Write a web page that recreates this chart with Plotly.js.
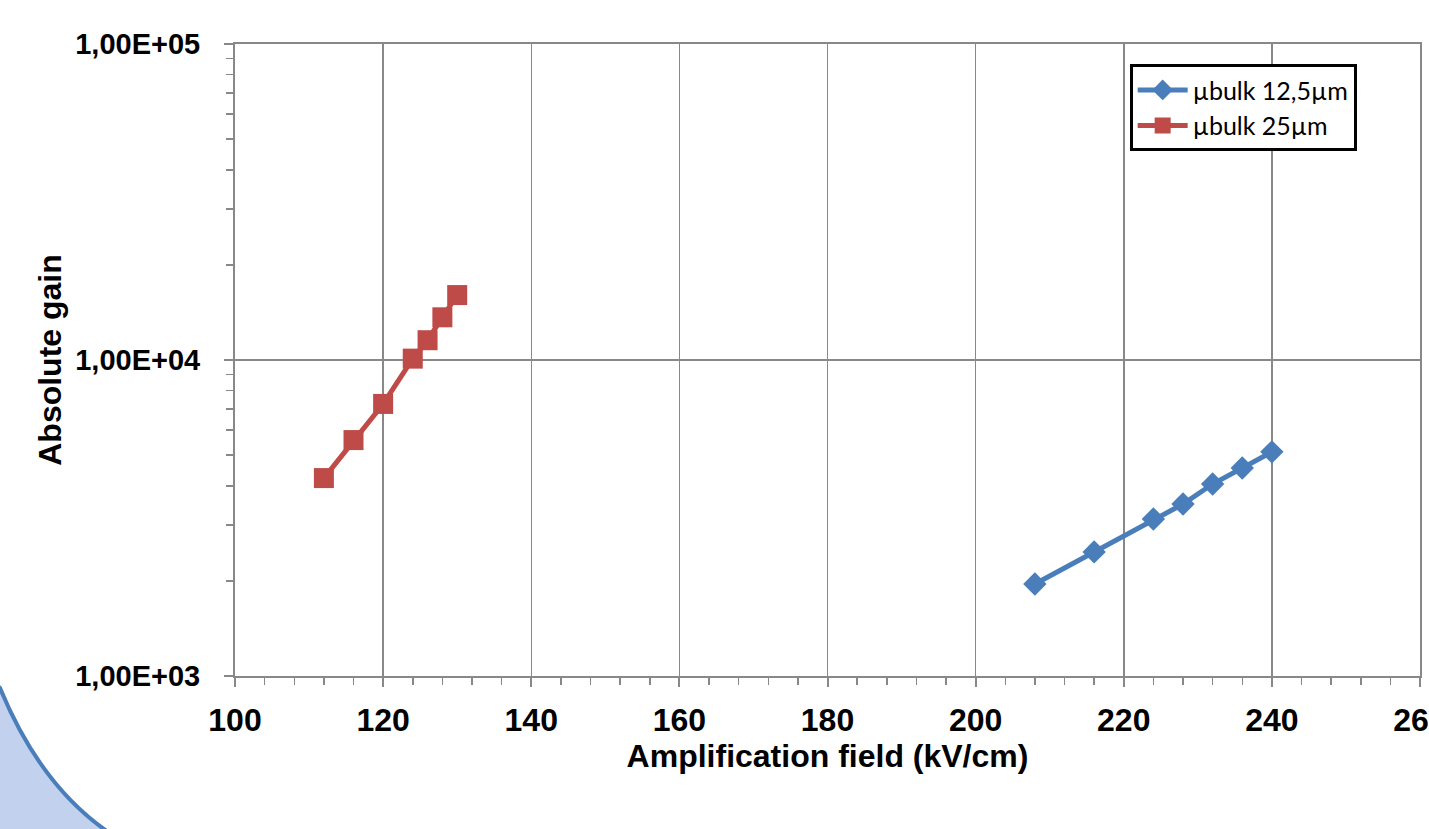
<!DOCTYPE html>
<html>
<head>
<meta charset="utf-8">
<script src="https://cdn.plot.ly/plotly-3.0.1.min.js"></script>
<style>html,body{margin:0;padding:0;background:#fff;}#chart{width:1429px;height:829px;}</style>
</head>
<body>
<div id="chart"></div>
<script>
// Data
const fieldThin = [208, 216, 224, 228, 232, 236, 240];
const gainThin = [1955, 2470, 3140, 3500, 4050, 4550, 5120];
const fieldThick = [112, 116, 120, 124, 126, 128, 130];
const gainThick = [4230, 5580, 7260, 10100, 11550, 13650, 16050];
const seriesNames = ['µbulk 12,5µm', 'µbulk 25µm'];
const yTickVals = [1000, 10000, 100000];
const yTickText = ['1,00E+03', '1,00E+04', '1,00E+05'];
const xTickVals = [100, 120, 140, 160, 180, 200, 220, 240, 260];
const xTickText = ['100', '120', '140', '160', '180', '200', '220', '240', '260'];

const yMinor = [];
for (let i = 0; i < yTickVals.length - 1; i++) {
  for (let m = 2; m <= 9; m++) yMinor.push(yTickVals[i] * m);
}

const axisColor = '#888888';
const fam = 'Liberation Sans, Arial, sans-serif';

const traces = [
  {
    x: fieldThin, y: gainThin, name: seriesNames[0], type: 'scatter', mode: 'lines+markers',
    line: {color: '#4A7EBB', width: 5},
    marker: {symbol: 'diamond', size: 18, color: '#4A7EBB'}
  },
  {
    x: fieldThick, y: gainThick, name: seriesNames[1], type: 'scatter', mode: 'lines+markers',
    line: {color: '#BE4B48', width: 5},
    marker: {symbol: 'square', size: 20, color: '#BE4B48'}
  }
];

const layout = {
  width: 1429, height: 829,
  margin: {l: 235, r: 9, t: 44, b: 153},
  paper_bgcolor: '#ffffff', plot_bgcolor: '#ffffff',
  showlegend: true,
  legend: {
    x: 0.755, y: 0.968, xanchor: 'left', yanchor: 'top',
    bordercolor: '#000000', borderwidth: 3, bgcolor: '#ffffff',
    font: {family: 'Lato, Noto Sans, sans-serif', size: 25, color: '#000000'},
    tracegroupgap: 6, itemwidth: 50
  },
  xaxis: {
    range: [100, 260], tickvals: xTickVals, ticktext: xTickText,
    showgrid: true, gridcolor: axisColor, gridwidth: 1.5,
    showline: true, linecolor: axisColor, linewidth: 2, mirror: true,
    ticks: 'outside', ticklen: 9, tickwidth: 2, tickcolor: axisColor,
    minor: {dtick: 4, ticks: 'outside', ticklen: 7, tickwidth: 1.5, tickcolor: axisColor, showgrid: false},
    tickfont: {family: fam, size: 32, color: '#000', weight: 'bold'},
    ticklabeloverflow: 'allow',
    ticklabelstandoff: 6,
    zeroline: false,
    title: {text: 'Amplification field (kV/cm)', font: {family: fam, size: 32, color: '#000', weight: 'bold'}, standoff: 6}
  },
  yaxis: {
    type: 'log', range: [3, 5], tickvals: yTickVals, ticktext: yTickText,
    showgrid: true, gridcolor: axisColor, gridwidth: 1.5,
    showline: true, linecolor: axisColor, linewidth: 2, mirror: true,
    ticks: 'outside', ticklen: 9, tickwidth: 2, tickcolor: axisColor,
    minor: {tickvals: yMinor, ticks: 'outside', ticklen: 7, tickwidth: 1.5, tickcolor: axisColor, showgrid: false},
    tickfont: {family: fam, size: 29, color: '#000', weight: 'bold'},
    ticklabelstandoff: 18,
    zeroline: false,
    title: {text: 'Absolute gain', font: {family: fam, size: 32, color: '#000', weight: 'bold'}, standoff: 4}
  },
  shapes: [
    {
      type: 'path', xref: 'paper', yref: 'paper', layer: 'above',
      path: 'M -0.21,0.0 L -0.1983,-0.0190 Q -0.1646,-0.1725 -0.1071,-0.2468 L -0.09,-0.30 L -0.25,-0.30 L -0.25,0.0 Z',
      fillcolor: '#C2D1EE', line: {width: 0}
    },
    {
      type: 'path', xref: 'paper', yref: 'paper', layer: 'above',
      path: 'M -0.21,0.0 L -0.1983,-0.0190 Q -0.1646,-0.1725 -0.1071,-0.2468 L -0.09,-0.30',
      line: {color: '#4A7EBB', width: 4}
    }
  ]
};

Plotly.newPlot('chart', traces, layout, {displayModeBar: false, staticPlot: true});
</script>
</body>
</html>
